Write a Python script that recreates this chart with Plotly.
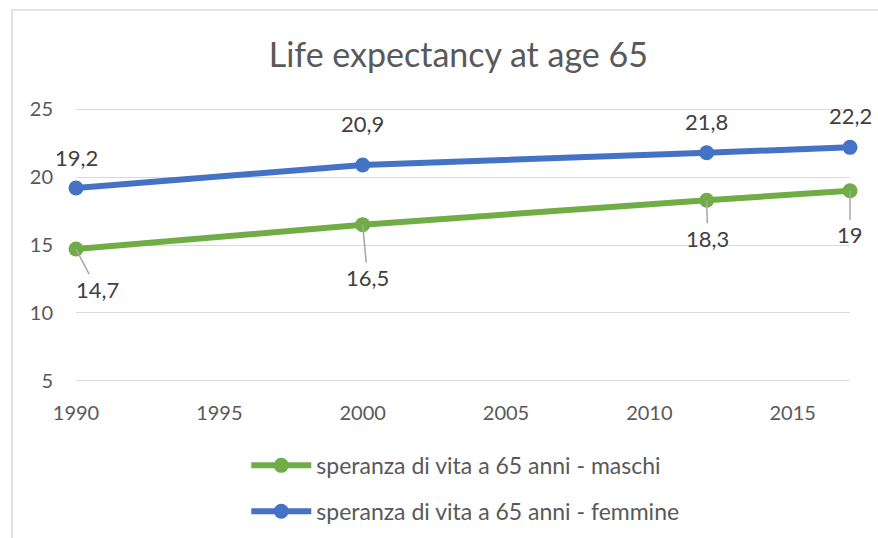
import plotly.graph_objects as go

years = [1990, 2000, 2012, 2017]
maschi = [14.7, 16.5, 18.3, 19.0]
femmine = [19.2, 20.9, 21.8, 22.2]
maschi_labels = ["14,7", "16,5", "18,3", "19"]
femmine_labels = ["19,2", "20,9", "21,8", "22,2"]
name_m = "speranza di vita a 65 anni - maschi"
name_f = "speranza di vita a 65 anni - femmine"
title = "Life expectancy at age 65"

FONT = "Lato, Open Sans, sans-serif"
GREEN = "#70AD47"
BLUE = "#4472C4"
TXT = "#595959"
LBL = "#404040"

fig = go.Figure()
fig.add_trace(go.Scatter(x=years, y=maschi, name=name_m, mode="lines+markers",
                         line=dict(color=GREEN, width=6), marker=dict(size=15, color=GREEN),
                         legendgroup="m", cliponaxis=False))
fig.add_trace(go.Scatter(x=years, y=femmine, name=name_f, mode="lines+markers",
                         line=dict(color=BLUE, width=6), marker=dict(size=15, color=BLUE),
                         legendgroup="f", cliponaxis=False))

# label offsets (pixels)
m_off = [(21, 40), (5, 53), (1, 38), (0, 44)]
f_shift = [31, 41, 31, 32]
anns = []
for x, y, t, (ax, ay) in zip(years, maschi, maschi_labels, m_off):
    anns.append(dict(x=x, y=y, text=t, showarrow=True, ax=ax, ay=ay, arrowhead=0,
                     arrowwidth=1.5, arrowcolor="#A6A6A6", standoff=0,
                     font=dict(family=FONT, size=22, color=LBL)))
for x, y, t, s in zip(years, femmine, femmine_labels, f_shift):
    anns.append(dict(x=x, y=y, text=t, showarrow=False, yshift=s,
                     font=dict(family=FONT, size=22, color=LBL)))

fig.update_layout(
    width=878, height=538,
    margin=dict(l=76, r=28, t=108, b=156, autoexpand=False),
    paper_bgcolor="white", plot_bgcolor="white",
    font=dict(family=FONT, color=TXT),
    title=dict(text=title, x=0.522, xanchor="center", y=1 - 55 / 538, yanchor="middle",
               yref="container", font=dict(family=FONT, size=34, color=TXT)),
    xaxis=dict(range=[1990, 2017], tickmode="linear", tick0=1990, dtick=5,
               showgrid=False, zeroline=False, showline=False,
               tickfont=dict(size=20, color=TXT), ticklabelstandoff=17),
    yaxis=dict(range=[4.9, 25.1], tickmode="linear", tick0=5, dtick=5,
               showgrid=True, gridcolor="#D9D9D9", gridwidth=1.3, zeroline=False,
               showline=False, tickfont=dict(size=20, color=TXT), ticklabelstandoff=22),
    showlegend=True,
    legend=dict(x=0.22, xanchor="left", y=-0.226, yanchor="top", orientation="v",
                traceorder="grouped", tracegroupgap=13, itemwidth=60,
                font=dict(family=FONT, size=23, color=TXT), bgcolor="rgba(0,0,0,0)"),
    annotations=anns,
    shapes=[dict(type="rect", xref="paper", yref="paper",
                 x0=(12 - 76) / 774, x1=1.2, y0=(382 - 560) / 274, y1=(382 - 10) / 274,
                 line=dict(color="#D9D9D9", width=1.5), layer="below")],
)

fig.write_html("out.html", config={"displayModeBar": False},
               post_script="document.body.style.margin='0';document.body.style.overflow='hidden';")
